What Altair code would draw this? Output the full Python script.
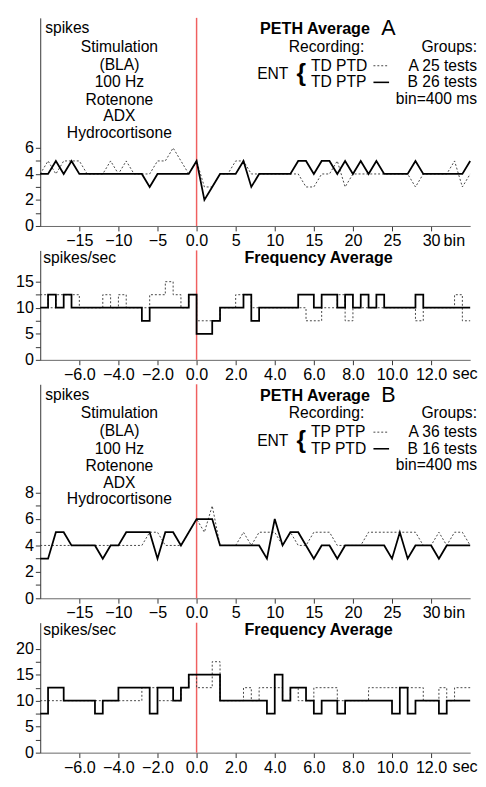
import altair as alt
import pandas as pd

FONT = "Liberation Sans, Arial, sans-serif"
RED = "#f06060"

# ---------------- data ----------------
peth_bins = list(range(-20, 36))
peth_a_dotted = [4, 5, 4, 5, 5, 5, 4, 4, 4, 5, 4, 5, 4, 4, 4, 5, 5, 6, 5, 4,
                 5, 3, 3, 4, 4, 5, 5, 4, 4, 4, 4, 4, 4, 4, 3, 3, 4, 4, 5, 3,
                 4, 4, 4, 4, 4, 4, 4, 4, 3, 4, 4, 4, 4, 5, 3, 4]
peth_a_solid = [4, 4, 5, 4, 5, 4, 4, 4, 4, 4, 4, 4, 4, 4, 3, 4, 4, 4, 4, 4,
                5, 2, 3, 4, 4, 4, 5, 3, 4, 4, 4, 4, 4, 5, 5, 4, 5, 5, 4, 5,
                4, 5, 4, 5, 4, 4, 4, 4, 5, 4, 4, 4, 4, 4, 4, 5]
peth_b_dotted = [4, 4, 4, 4, 4, 4, 4, 4, 4, 4, 4, 4, 4, 4, 5, 5, 4, 4, 4, 5,
                 6, 5, 7, 4, 4, 4, 5, 4, 5, 5, 5, 4, 5, 4, 4, 5, 5, 5, 4, 4,
                 4, 4, 5, 5, 5, 5, 5, 5, 5, 4, 4, 5, 4, 5, 5, 4]
peth_b_solid = [3, 3, 5, 5, 4, 4, 4, 4, 3, 4, 4, 5, 5, 5, 5, 3, 5, 5, 4, 5,
                6, 6, 6, 4, 4, 4, 4, 4, 4, 3, 6, 4, 5, 5, 4, 3, 4, 4, 3, 4,
                4, 4, 4, 4, 4, 3, 5, 3, 4, 4, 4, 3, 4, 4, 4, 4]

freq_start = -8.0
freq_step = 0.4
freq_a_dotted = [12.5, 10, 12.5, 12.5, 12.5, 10, 10, 10, 12.5, 10, 12.5, 10, 10, 10,
                 12.5, 12.5, 15, 12.5, 10, 12.5, 7.5, 7.5, 7.5, 10, 10, 12.5, 12.5, 10,
                 10, 10, 10, 10, 10, 10, 7.5, 7.5, 10, 10, 12.5, 7.5, 10, 10, 10, 10,
                 10, 10, 10, 10, 7.5, 10, 10, 10, 10, 12.5, 7.5]
freq_a_solid = [10, 12.5, 10, 12.5, 10, 10, 10, 10, 10, 10, 10, 10, 10, 7.5,
                10, 10, 10, 10, 10, 12.5, 5, 5, 7.5, 10, 10, 10, 12.5, 7.5,
                10, 10, 10, 10, 10, 12.5, 12.5, 10, 12.5, 12.5, 10, 12.5, 10, 12.5,
                10, 12.5, 10, 10, 10, 10, 12.5, 10, 10, 10, 10, 10, 10]
freq_b_dotted = [10, 10, 10, 10, 10, 10, 10, 10, 10, 10, 10, 10, 10, 12.5,
                 12.5, 10, 10, 10, 12.5, 15, 12.5, 12.5, 17.5, 10, 10, 10, 12.5, 10,
                 12.5, 12.5, 12.5, 10, 12.5, 10, 10, 12.5, 12.5, 12.5, 10, 10, 10, 10,
                 12.5, 12.5, 12.5, 12.5, 12.5, 12.5, 12.5, 10, 10, 12.5, 10, 12.5, 12.5]
freq_b_solid = [7.5, 12.5, 12.5, 10, 10, 10, 10, 7.5, 10, 10, 12.5, 12.5, 12.5, 12.5,
                7.5, 12.5, 12.5, 10, 12.5, 15, 15, 15, 15, 10, 10, 10, 10, 10,
                10, 7.5, 15, 10, 12.5, 12.5, 10, 7.5, 10, 10, 7.5, 10, 10, 10,
                10, 10, 10, 7.5, 12.5, 7.5, 10, 10, 10, 7.5, 10, 10, 10]

peth_ticks = [-15, -10, -5, 0, 5, 10, 15, 20, 25, 30]
freq_ticks = [-6, -4, -2, 0, 2, 4, 6, 8, 10, 12]

W = 440
H1, H2, H3, H4 = 213, 112, 219, 133


def peth_df(vals):
    return pd.DataFrame({"x": peth_bins, "y": vals})


def freq_df(vals):
    xs = [round(freq_start + freq_step * i, 2) for i in range(len(vals) + 1)]
    return pd.DataFrame({"x": xs, "y": list(vals) + [vals[-1]]})


ONE = alt.Data(values=[{"a": 1}])


def txt(s, x, y, size=16, weight="normal", align="left", baseline="middle"):
    return alt.Chart(ONE).mark_text(
        text=s, fontSize=size, fontWeight=weight, align=align,
        baseline=baseline, font=FONT, color="black"
    ).encode(x=alt.value(x), y=alt.value(y))


def seg(x1, x2, y, dash=None, width=1.6):
    kw = dict(color="black", strokeWidth=width)
    if dash:
        kw = dict(color="#444", strokeWidth=1, strokeDash=dash)
    return alt.Chart(ONE).mark_rule(**kw).encode(
        x=alt.value(x1), x2=alt.value(x2), y=alt.value(y))


def panel(kind, dotted, solid, ymax, height, yvals, ylab_every, header):
    if kind == "peth":
        dfd, dfs = peth_df(dotted), peth_df(solid)
        xdom = [-20, 35]
        xaxis = alt.Axis(values=peth_ticks, title=None, labelFlush=False,
                         labelOverlap=False, domainColor="#666",
                         labelExpr="datum.value === 0 ? '0.0' : datum.label")
        interp = "linear"
        unit, unit_x = "bin", 31.6
    else:
        dfd, dfs = freq_df(dotted), freq_df(solid)
        xdom = [-8, 14]
        xaxis = alt.Axis(values=freq_ticks, title=None, labelFlush=False,
                         labelOverlap=False, format=".1f", domainColor="#666")
        interp = "step-after"
        unit, unit_x = "sec", 13.1
    yaxis = alt.Axis(values=yvals, title=None, labelOverlap=False,
                     labelExpr=f"datum.value % {ylab_every} === 0 ? datum.label : ''")
    xs = alt.Scale(domain=xdom, nice=False, zero=False)
    ys = alt.Scale(domain=[0, ymax], nice=False, zero=True)
    dl = alt.Chart(dfd).mark_line(color="#444", strokeWidth=1, strokeDash=[2, 2],
                                  interpolate=interp).encode(
        x=alt.X("x:Q", scale=xs, axis=xaxis), y=alt.Y("y:Q", scale=ys, axis=yaxis))
    sl = alt.Chart(dfs).mark_line(color="black", strokeWidth=1.8,
                                  interpolate=interp).encode(
        x=alt.X("x:Q", scale=xs, axis=xaxis), y=alt.Y("y:Q", scale=ys, axis=yaxis))
    rule = alt.Chart(ONE).mark_rule(color=RED, strokeWidth=1.5).encode(
        x=alt.datum(0), y=alt.value(0), y2=alt.value(height))
    unit_t = alt.Chart(ONE).mark_text(
        text=unit, fontSize=16.5, font=FONT, align="left", baseline="top",
        color="black").encode(x=alt.datum(unit_x), y=alt.value(height + 7))
    layers = [rule, dl, sl, unit_t] + header
    return alt.layer(*layers).properties(width=W, height=height)


def peth_header(letter, rec1, rec2, g1, g2):
    return [
        txt("spikes", 5, 11),
        txt("Stimulation", 81, 30, align="center"),
        txt("(BLA)", 81, 48, align="center"),
        txt("100 Hz", 81, 66, align="center"),
        txt("Rotenone", 81, 84, align="center"),
        txt("ADX", 81, 101, align="center"),
        txt("Hydrocortisone", 81, 118, align="center"),
        txt("PETH Average", 225, 17, size=16.5, weight="bold", baseline="alphabetic"),
        txt(letter, 349, 18, size=22, baseline="alphabetic"),
        txt("Recording:", 293, 30, align="center"),
        txt("Groups:", 447, 30, align="right"),
        txt("ENT", 222, 58),
        txt("{", 267, 57, size=25, weight="bold", align="center"),
        txt(rec1, 277, 49),
        seg(341, 357, 49, dash=[2, 2]),
        txt(g1, 447, 49, align="right"),
        txt(rec2, 277, 66),
        seg(341, 357, 66),
        txt(g2, 447, 66, align="right"),
        txt("bin=400 ms", 447, 83, align="right"),
    ]


def freq_header():
    return [
        txt("spikes/sec", 3, 8),
        txt("Frequency Average", 209, 8, size=16.5, weight="bold"),
    ]


p1 = panel("peth", peth_a_dotted, peth_a_solid, 16, H1, [0, 1, 2, 3, 4, 5, 6], 2,
           peth_header("A", "TD PTD", "TD PTP", "A 25 tests", "B 26 tests"))
p2 = panel("freq", freq_a_dotted, freq_a_solid, 21, H2,
           [0, 2.5, 5, 7.5, 10, 12.5, 15], 5, freq_header())
p3 = panel("peth", peth_b_dotted, peth_b_solid, 16.2, H3, [0, 1, 2, 3, 4, 5, 6, 7, 8], 2,
           peth_header("B", "TP PTP", "TP PTD", "A 36 tests", "B 16 tests"))
p4 = panel("freq", freq_b_dotted, freq_b_solid, 25, H4,
           [0, 2.5, 5, 7.5, 10, 12.5, 15, 17.5, 20], 5, freq_header())

chart = alt.vconcat(p1, p2, p3, p4, spacing=25, bounds="flush").properties(
    padding={"left": 7, "top": 0, "right": 0, "bottom": 0}
).configure_view(strokeWidth=0).configure_axis(
    grid=False, labelFont=FONT, labelFontSize=16.5, labelColor="black",
    tickColor="#333", tickSize=5, labelPadding=2, domainColor="#333",
)

chart.save("out.html", embed_options={"renderer": "svg", "actions": False})
